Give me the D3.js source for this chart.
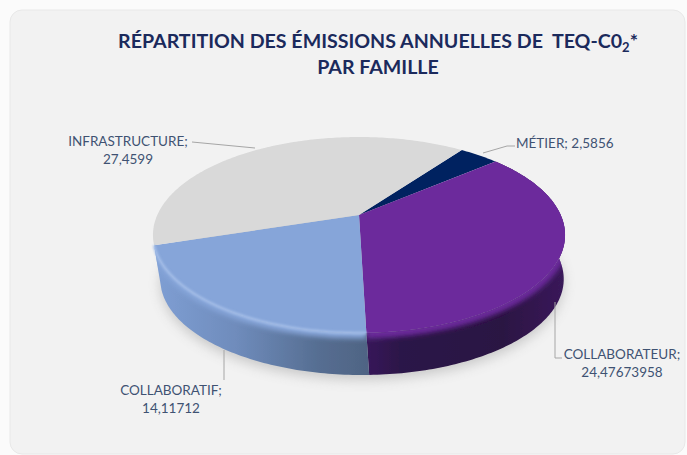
<!DOCTYPE html>
<html>
<head>
<meta charset="utf-8">
<script src="https://cdn.jsdelivr.net/npm/d3@7"></script>
<style>
  body { margin: 0; background: #fbfbfb; }
  text { font-family: Lato, "Open Sans", sans-serif; }
</style>
</head>
<body>
<div id="container"></div>
<script>
let categories = ["MÉTIER", "COLLABORATEUR", "COLLABORATIF", "INFRASTRUCTURE"];
let values = [2.5856, 24.47673958, 14.11712, 27.4599];
let valueLabels = ["2,5856", "24,47673958", "14,11712", "27,4599"];
let faceColors = ["#002060", "#6c2c9c", "#86a5d9", "#d9d9d9"];

let w = 687;
let h = 455;

let viz = d3.select("#container")
  .append("svg")
    .attr("width", w)
    .attr("height", h)
    .style("display", "block")
;

let defs = viz.append("defs");

defs.append("filter").attr("id", "blur8").attr("x", "-20%").attr("y", "-40%").attr("width", "140%").attr("height", "180%")
  .append("feGaussianBlur").attr("stdDeviation", 6);
defs.append("filter").attr("id", "blur2").attr("x", "-10%").attr("y", "-20%").attr("width", "120%").attr("height", "140%")
  .append("feGaussianBlur").attr("stdDeviation", 2.5);
defs.append("filter").attr("id", "blur1").attr("x", "-10%").attr("y", "-20%").attr("width", "120%").attr("height", "140%")
  .append("feGaussianBlur").attr("stdDeviation", 1.2);
defs.append("filter").attr("id", "soft").attr("x", "-5%").attr("y", "-5%").attr("width", "110%").attr("height", "110%")
  .append("feGaussianBlur").attr("stdDeviation", 0.6);

function addGradient(id, stops){
    let g = defs.append("linearGradient")
        .attr("id", id)
        .attr("gradientUnits", "userSpaceOnUse")
        .attr("x1", 153).attr("x2", 565).attr("y1", 0).attr("y2", 0);
    stops.forEach(function(s){
        g.append("stop").attr("offset", s[0]).attr("stop-color", s[1]);
    });
}
addGradient("wall1", [[0.5, "#3a1a5e"], [0.6, "#2c1448"], [0.85, "#2b1243"], [1, "#3a1a5a"]]);
addGradient("wall2", [[0, "#7f9fd4"], [0.2, "#6f8cbc"], [0.4, "#566e92"], [0.52, "#4f6484"]]);

// card
viz.append("rect")
    .attr("x", 10).attr("y", 10)
    .attr("width", 675).attr("height", 444)
    .attr("rx", 12)
    .attr("fill", "#f2f2f2")
    .attr("stroke", "#e8e8e8")
;

// title
let title = viz.append("text")
    .attr("x", 378).attr("y", 48)
    .attr("text-anchor", "middle")
    .attr("fill", "#1b2a5c")
    .style("font-size", "19.6px")
    .style("font-weight", "bold")
;
title.append("tspan").text("RÉPARTITION DES ÉMISSIONS ANNUELLES DE\u00a0\u00a0TEQ-C0");
title.append("tspan").text("2").attr("dy", 4).style("font-size", "13px");
title.append("tspan").text("*").attr("dy", -4);

viz.append("text")
    .attr("x", 378).attr("y", 74)
    .attr("text-anchor", "middle")
    .attr("fill", "#1b2a5c")
    .style("font-size", "19.6px")
    .style("font-weight", "bold")
    .text("PAR FAMILLE")
;

// pie, seen in perspective: u,v on the unit disc go through a homography
let cx = 359;
let cy = 215;
let rx = 201.7;
let ry = 93.9;
let persp = 0.204;

// lower rim of the wall is a bit smaller than the face
let lowerR = 0.98;
let lowerDrop = 45;
let lowerShift = 3;

function project(angle, r, drop, shift){
    let u = Math.sin(angle) * r;
    let v = -Math.cos(angle) * r;
    let d = 1 - persp * v;
    return [cx + shift + rx * u / d, cy + ry * v / d + drop];
}

function arcPoints(a0, a1, r, drop, shift){
    let n = Math.max(2, Math.ceil((a1 - a0) * 60));
    return d3.range(n + 1).map(function(i){
        return project(a0 + (a1 - a0) * i / n, r, drop, shift);
    });
}

let pie = d3.pie().sort(null).startAngle(36.4 * Math.PI / 180).endAngle((360 + 36.4) * Math.PI / 180);
let slices = pie(values);
let line = d3.line();

// shadow under the pie
viz.append("path")
    .attr("d", line(arcPoints(0, 2 * Math.PI, lowerR, lowerDrop + 5, lowerShift)) + "Z")
    .attr("fill", "#9a9a9a")
    .attr("opacity", 0.45)
    .attr("filter", "url(#blur8)")
;

let pieGroup = viz.append("g").attr("filter", "url(#soft)");

// side walls, only the two front slices show one
let frontSlices = slices.slice(1, 3);

function wallPath(d){
    let top = arcPoints(d.startAngle, d.endAngle, 1, 0, 0);
    let bottom = arcPoints(d.startAngle, d.endAngle, lowerR, lowerDrop, lowerShift).reverse();
    return line(top.concat(bottom)) + "Z";
}

pieGroup.selectAll(".wall").data(frontSlices).enter()
  .append("path")
    .classed("wall", true)
    .attr("d", wallPath)
    .attr("fill", function(d){ return "url(#wall" + d.index + ")"; })
;

// bevel between the face and the wall
defs.selectAll(".wallclip").data(frontSlices).enter()
  .append("clipPath")
    .classed("wallclip", true)
    .attr("id", function(d){ return "wallclip" + d.index; })
  .append("path")
    .attr("d", wallPath)
;

pieGroup.selectAll(".bevel").data(frontSlices).enter()
  .append("g")
    .attr("clip-path", function(d){ return "url(#wallclip" + d.index + ")"; })
  .append("path")
    .classed("bevel", true)
    .attr("d", function(d){ return line(arcPoints(d.startAngle, d.endAngle, 1, 1, 0)); })
    .attr("fill", "none")
    .attr("stroke", function(d){ return faceColors[d.index]; })
    .attr("stroke-width", 9)
    .attr("filter", "url(#blur2)")
;

// top faces
pieGroup.selectAll(".face").data(slices).enter()
  .append("path")
    .classed("face", true)
    .attr("d", function(d){
        return line([[cx, cy]].concat(arcPoints(d.startAngle, d.endAngle, 1, 0, 0))) + "Z";
    })
    .attr("fill", function(d, i){ return faceColors[i]; })
;

// pale rim on the blue slice
pieGroup.append("path")
    .attr("d", line(arcPoints(slices[2].startAngle, slices[2].endAngle, 1, 0, 0)))
    .attr("fill", "none")
    .attr("stroke", "#a4bee8")
    .attr("stroke-width", 2.5)
    .attr("filter", "url(#blur1)")
;

// leader lines
let leaders = [
    [[483, 153], [507, 146], [515, 146]],
    [[555, 302], [555, 358], [562, 358]],
    [[224, 350], [224, 380]],
    [[192, 142], [255, 148]]
];
viz.selectAll(".leader").data(leaders).enter()
  .append("path")
    .classed("leader", true)
    .attr("d", function(d){ return line(d); })
    .attr("fill", "none")
    .attr("stroke", "#a6a6a6")
    .attr("stroke-width", 1)
;

// labels
let labelPos = [
    {x: 516, y: 148, anchor: "start", oneLine: true},
    {x: 622, y: 359, anchor: "middle"},
    {x: 171, y: 395, anchor: "middle"},
    {x: 128, y: 146, anchor: "middle"}
];
categories.forEach(function(c, i){
    let p = labelPos[i];
    let t = viz.append("text")
        .attr("x", p.x).attr("y", p.y)
        .attr("text-anchor", p.anchor)
        .attr("fill", "#3f5272")
        .style("font-size", "13.5px")
    ;
    if (p.oneLine) {
        t.text(c + "; " + valueLabels[i]);
    } else {
        t.append("tspan").text(c + ";");
        t.append("tspan").attr("x", p.x).attr("dy", 18).text(valueLabels[i]);
    }
});
</script>
</body>
</html>
